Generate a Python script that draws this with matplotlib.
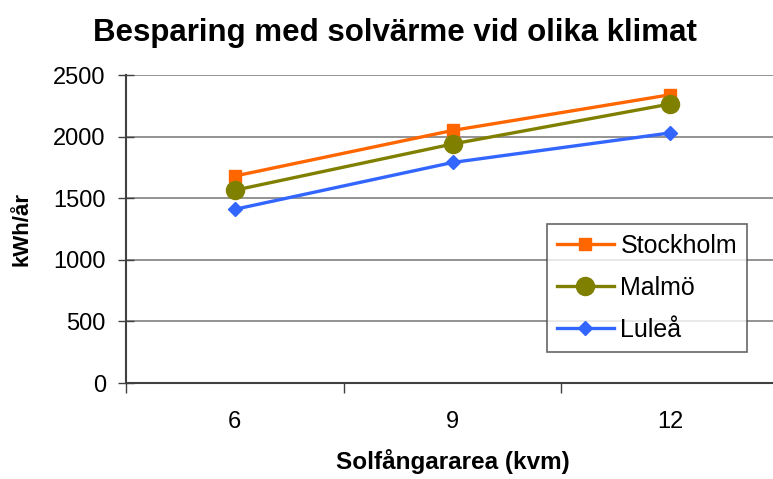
import numpy as np
import matplotlib
matplotlib.use("Agg")
from matplotlib import pyplot as plt

plt.rcParams["font.family"] = ["Liberation Sans", "DejaVu Sans"]

areas = ["6", "9", "12"]
stockholm = [1680, 2050, 2340]
malmo = [1565, 1940, 2265]
lulea = [1410, 1790, 2030]

fig = plt.figure(figsize=(7.73, 4.79), dpi=100)
ax = fig.add_axes([0.163, 0.2004, 0.845, 0.643])

x = np.arange(len(areas))
ax.plot(x, stockholm, color="#FF6600", lw=2.4, marker="s", ms=8, label="Stockholm")
ax.plot(x, malmo, color="#808000", lw=2.4, marker="o", ms=13, label="Malmö")
ax.plot(x, lulea, color="#3366FF", lw=2.4, marker="D", ms=7, label="Luleå")

ax.set_xlim(-0.5, 2.5)
ax.set_ylim(0, 2500)
ax.set_yticks(range(0, 2501, 500))
ax.yaxis.grid(True, color="#808080", lw=1.2)
ax.set_axisbelow(True)

ax.set_xticks(x)
ax.set_xticklabels(areas)
ax.set_xticks([-0.5, 0.5, 1.5], minor=True)
ax.tick_params(axis="x", which="major", length=0, pad=20, labelsize=17)
ax.tick_params(axis="x", which="minor", length=7, width=1, color="#404040", direction="out")
ax.tick_params(axis="y", length=11, width=1, color="#404040", direction="inout", pad=9, labelsize=17)

for s in ["top", "right"]:
    ax.spines[s].set_visible(False)
for s in ["left", "bottom"]:
    ax.spines[s].set_color("#404040")
    ax.spines[s].set_linewidth(1.5)

fig.suptitle("Besparing med solvärme vid olika klimat", x=0.511, y=0.962,
             fontsize=22.5, fontweight="bold")
ax.set_xlabel("Solfångararea (kvm)", fontsize=17.5, fontweight="bold", labelpad=12)
ax.set_ylabel("kWh/år", fontsize=16, fontweight="bold", labelpad=15)

leg = ax.legend(loc="lower left", bbox_to_anchor=(0.644, 0.10), fontsize=18,
                frameon=True, fancybox=False, edgecolor="#404040",
                handlelength=2.3, handletextpad=0.25, labelspacing=0.72,
                borderpad=0.4, borderaxespad=0)
leg.get_frame().set_linewidth(1.2)

plt.savefig("out.png", dpi=100)
